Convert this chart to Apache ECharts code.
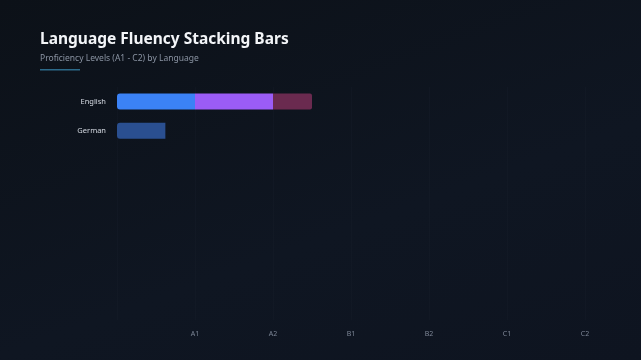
<!DOCTYPE html>
<html lang="en">
<head>
    <meta charset="UTF-8">
    <title>Language Fluency</title>
    <script src="https://cdn.jsdelivr.net/npm/echarts@6/dist/echarts.min.js"></script>
    <style>
        html, body { margin: 0; padding: 0; }
        body { background: linear-gradient(160deg, #0c1118 0%, #0f1622 60%, #0e1420 100%); }
    </style>
</head>
<body>
<div id="chart" style="width:641px;height:360px;"></div>
<script>
    var languages = ['English', 'German'];
    var levels = ['', 'A1', 'A2', 'B1', 'B2', 'C1', 'C2'];
    // stacked segments, in level units
    var segBase = [1, 0.62];
    var segMid = [1, 0];
    var segTop = [0.5, 0];

    var myChart = echarts.init(document.getElementById('chart'));
    var font = 'Noto Sans';
    var option = {
        backgroundColor: 'transparent',
        title: {
            text: 'Language Fluency Stacking Bars',
            subtext: 'Proficiency Levels (A1 - C2) by Language',
            left: 35,
            top: 27,
            itemGap: 6,
            textStyle: { color: '#f3f5f8', fontSize: 15.5, fontWeight: 'bold', fontFamily: font },
            subtextStyle: { color: '#8b94a3', fontSize: 8.5, fontFamily: font }
        },
        graphic: [{
            type: 'rect',
            left: 40, top: 69,
            shape: { width: 40, height: 1.5 },
            style: { fill: '#2c6a8a' }
        }],
        grid: { left: 117, right: 56, top: 87, bottom: 40 },
        xAxis: {
            type: 'value',
            min: 0,
            max: 6,
            interval: 1,
            axisLine: { show: false },
            axisTick: { show: false },
            axisLabel: {
                color: '#7d8696', fontSize: 7, fontFamily: font, margin: 10,
                formatter: function (v) { return levels[v] || ''; }
            },
            splitLine: { show: true, lineStyle: { color: 'rgba(120,140,170,0.03)', width: 1 } }
        },
        yAxis: {
            type: 'category',
            data: languages,
            inverse: true,
            min: 0,
            max: 7,
            axisLine: { show: false },
            axisTick: { show: false },
            axisLabel: {
                color: '#d6dbe3', fontSize: 7.5, fontFamily: font, margin: 11,
                formatter: function (v) { return languages.indexOf(v) >= 0 ? v : ''; }
            },
            splitLine: { show: false }
        },
        series: [
            {
                name: 'Base', type: 'bar', stack: 'lvl', barWidth: 16,
                data: segBase.map(function (v, i) {
                    return {
                        value: v,
                        itemStyle: { color: i === 0 ? '#3b82f6' : '#2a4f90', borderRadius: [3, 0, 0, 3] }
                    };
                }),
                itemStyle: { color: '#3b82f6' }
            },
            {
                name: 'Mid', type: 'bar', stack: 'lvl', barWidth: 16,
                data: segMid,
                itemStyle: { color: '#9b5cf6' }
            },
            {
                name: 'Top', type: 'bar', stack: 'lvl', barWidth: 16,
                data: segTop,
                itemStyle: { color: '#6a2a4f', borderRadius: [0, 2, 2, 0] }
            }
        ]
    };
    myChart.setOption(option);
</script>
</body>
</html>
